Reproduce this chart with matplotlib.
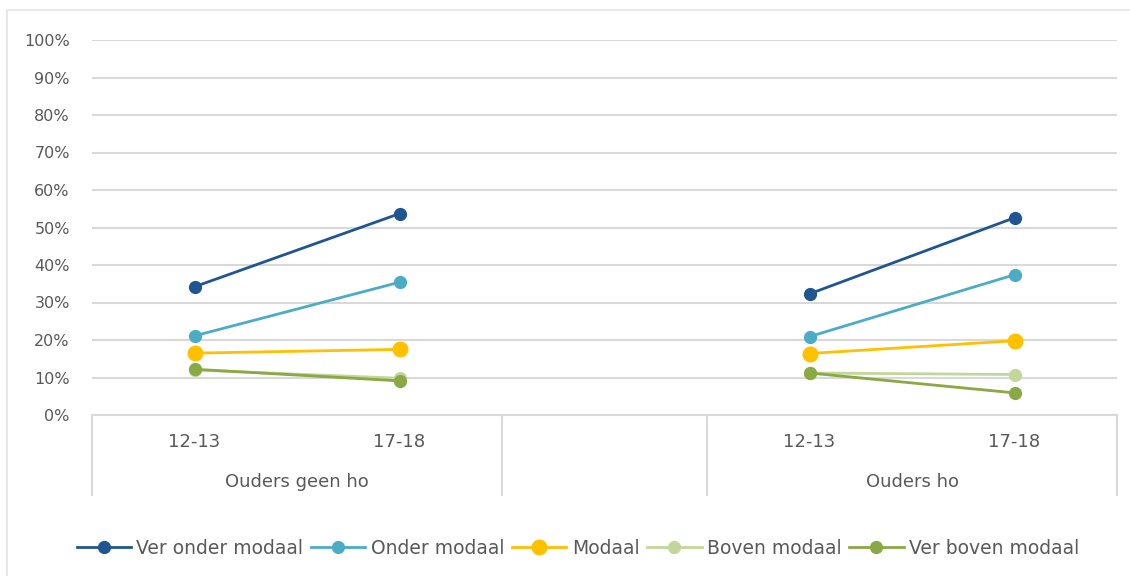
import matplotlib
matplotlib.use("Agg")
import matplotlib.pyplot as plt
import matplotlib.transforms as mtransforms
import numpy as np

# data
categories = ["12-13", "17-18", "", "12-13", "17-18"]
groups = ["Ouders geen ho", "", "Ouders ho"]
series_names = ["Ver onder modaal", "Onder modaal", "Modaal", "Boven modaal", "Ver boven modaal"]
ver_onder = [34.2, 53.7, np.nan, 32.3, 52.6]
onder = [21.1, 35.4, np.nan, 20.9, 37.4]
modaal = [16.5, 17.5, np.nan, 16.4, 19.8]
boven = [12.0, 9.8, np.nan, 11.2, 10.8]
ver_boven = [12.2, 9.1, np.nan, 11.2, 5.9]
colors = ["#1F5591", "#4BACC6", "#FFC000", "#C3D69B", "#8AA843"]

values = [ver_onder, onder, modaal, boven, ver_boven]
msizes = [8.5, 8.5, 10.5, 8.5, 8.5]
grey = "#D9D9D9"
txt = "#595959"

fig = plt.figure(figsize=(11.3, 5.76), dpi=100)
ax = fig.add_axes([92/1130, 1-415/576, (1117-92)/1130, (415-40)/576])

# outer frame (left and top visible)
fig.patches.append(plt.Rectangle((7/1130, -0.1), 1.2, 1-10/576+0.1, transform=fig.transFigure,
                                 fill=False, edgecolor="#E4E4E4", linewidth=1.2))

x = np.arange(len(categories))
for name, v, c, ms in zip(series_names, values, colors, msizes):
    ax.plot(x, v, color=c, linewidth=2, marker="o", markersize=ms, label=name, zorder=3)

ax.set_xlim(-0.5, len(categories) - 0.5)
ax.set_ylim(0, 100)
ax.set_yticks(range(0, 101, 10))
ax.set_yticklabels([f"{t}%" for t in range(0, 101, 10)])
ax.yaxis.grid(True, color=grey, linewidth=1.5)
ax.set_axisbelow(True)
for s in ["top", "right", "left"]:
    ax.spines[s].set_visible(False)
ax.spines["bottom"].set_color(grey)
ax.spines["bottom"].set_linewidth(1.5)
ax.tick_params(axis="y", length=0, pad=16, labelsize=11.5, labelcolor=txt)
ax.set_xticks(x)
ax.set_xticklabels(categories)
ax.tick_params(axis="x", length=0, pad=13, labelsize=13, labelcolor=txt)

# group separators and labels
trans = mtransforms.blended_transform_factory(ax.transData, ax.transAxes)
ybot = -(495 - 415) / 375
for xs in [-0.5, 1.5, 2.5, 4.5]:
    ax.plot([xs, xs], [0, ybot], transform=trans, color=grey, linewidth=1.5, clip_on=False)
group_centers = [0.5, 2.0, 3.5]
for g, xc in zip(groups, group_centers):
    ax.text(xc, -(482 - 415) / 375, g, transform=trans, ha="center", va="center",
            fontsize=13, color=txt)

leg = fig.legend(loc="center", bbox_to_anchor=(578/1130, 1-548/576), ncol=5, frameon=False,
                 fontsize=13.5, handlelength=2.9, handletextpad=0.3, columnspacing=0.4,
                 labelcolor=txt)

fig.savefig("out.png", dpi=100)
